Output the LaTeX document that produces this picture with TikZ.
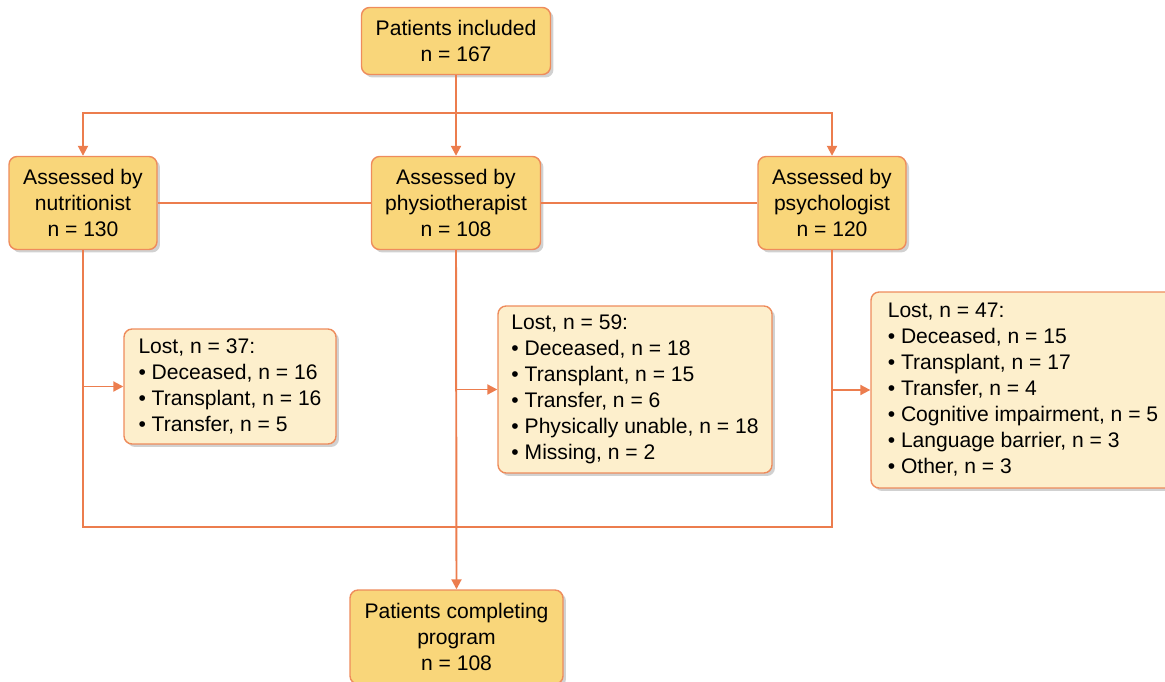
\documentclass[tikz,border=0pt]{standalone}
\usepackage{fontspec}
\setmainfont{Liberation Sans}
\usetikzlibrary{arrows.meta,shadows}
\definecolor{mainfill}{RGB}{249,214,122}
\definecolor{lostfill}{RGB}{253,239,204}
\definecolor{boxline}{RGB}{238,140,92}
\definecolor{flowline}{RGB}{236,125,78}
\tikzset{
	basebox/.style={draw=boxline, line width=0.8pt, rounded corners=0.16cm, inner sep=0pt,
		font=\fontsize{12pt}{14.8pt}\selectfont,
		drop shadow={shadow xshift=0.06cm, shadow yshift=-0.06cm, opacity=0.3, fill=black!60}},
	mainbox/.style={basebox, fill=mainfill, align=center},
	lostbox/.style={basebox, fill=lostfill, align=left},
	flow/.style={draw=flowline, line width=1.1pt},
	arr/.style={flow, -{Triangle[length=0.2cm, width=0.2cm]}}
}
\begin{document}
\begin{tikzpicture}[x=0.02cm, y=-0.02cm]
		\useasboundingbox (0, 0) rectangle (1165, 682);
		% Obere Reihe
		\node [mainbox, minimum width=3.78cm, minimum height=1.34cm] (incl) at (456, 41)
			{Patients included\\n = 167};
		\node [mainbox, minimum width=2.96cm, minimum height=1.86cm] (nutr) at (83, 203)
			{Assessed by\\nutritionist\\n = 130};
		\node [mainbox, minimum width=3.38cm, minimum height=1.86cm] (phys) at (456, 203)
			{Assessed by\\physiotherapist\\n = 108};
		\node [mainbox, minimum width=2.96cm, minimum height=1.86cm] (psych) at (832, 203)
			{Assessed by\\psychologist\\n = 120};
		% Verluste
		\node [lostbox, minimum width=4.24cm, minimum height=2.3cm] (lostnutr) at (230, 386.5)
			{Lost, n = 37:\\• Deceased, n = 16\\• Transplant, n = 16\\• Transfer, n = 5};
		\node [lostbox, minimum width=5.48cm, minimum height=3.34cm] (lostphys) at (635, 389.5)
			{Lost, n = 59:\\• Deceased, n = 18\\• Transplant, n = 15\\• Transfer, n = 6\\• Physically unable, n = 18\\• Missing, n = 2};
		\node [lostbox, minimum width=6.08cm, minimum height=3.92cm] (lostpsych) at (1023, 390)
			{Lost, n = 47:\\• Deceased, n = 15\\• Transplant, n = 17\\• Transfer, n = 4\\• Cognitive impairment, n = 5\\• Language barrier, n = 3\\• Other, n = 3};
		% Ende
		\node [mainbox, minimum width=4.26cm, minimum height=1.88cm] (done) at (456.5, 637)
			{Patients completing\\program\\n = 108};
		% Linien
		\coordinate (split) at (456, 113);
		\coordinate (join) at (456, 527);
		\draw [flow] (incl.south) -- (split);
		\draw [arr] (split) -| (nutr.north);
		\draw [arr] (split) -| (psych.north);
		\draw [arr] (split) -- (phys.north);
		\draw [flow] (nutr.east) -- (phys.west);
		\draw [flow] (phys.east) -- (psych.west);
		\draw [flow] (nutr.south) |- (join) -| (psych.south);
		\draw [arr] (phys.south) -- (done.north);
		\draw [arr] (nutr.south |- lostnutr.west) -- (lostnutr.west);
		\draw [arr] (phys.south |- lostphys.west) -- (lostphys.west);
		\draw [arr] (psych.south |- lostpsych.west) -- (lostpsych.west);
	\end{tikzpicture}
\end{document}
